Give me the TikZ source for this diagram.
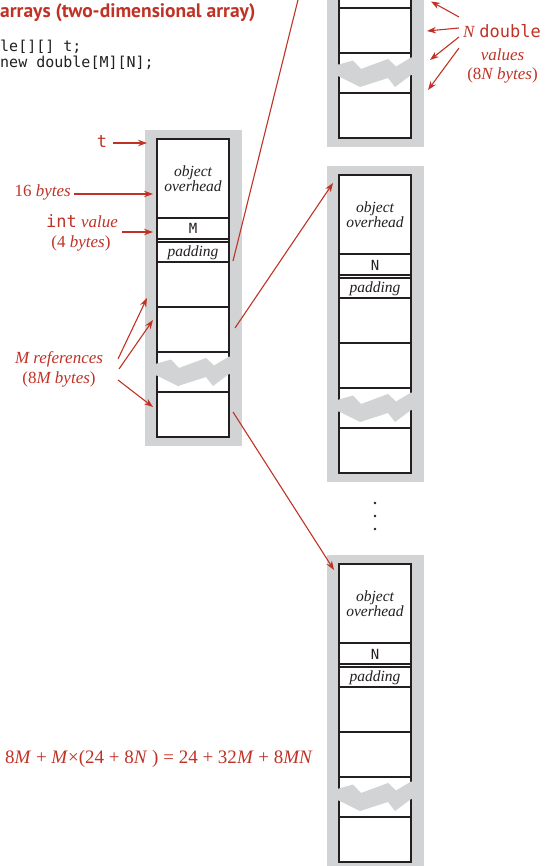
\documentclass[tikz,border=0pt]{standalone}
\usepackage{fontspec}
\setmainfont{Liberation Serif}
\newfontfamily\codefont{DejaVu Sans Mono}
\newfontfamily\titlefont{PT Sans}
\usetikzlibrary{arrows.meta}
\definecolor{bookred}{RGB}{192,50,38}
\definecolor{memgray}{RGB}{209,211,212}
\definecolor{cellline}{RGB}{35,31,32}
\tikzset{
  graybg/.style={fill=memgray},
  cell/.style={draw=cellline, line width=1.5pt},
  boxtxt/.style={font=\fontsize{15.5}{15.5}\selectfont\itshape, align=center, inner sep=0pt, text=cellline},
  boxmono/.style={font=\codefont\fontsize{14}{14}\selectfont, inner sep=0pt, text=cellline},
  lbl/.style={text=bookred, font=\fontsize{17}{19}\selectfont, inner sep=0pt},
  redarrow/.style={draw=bookred, line width=1.1pt, -{Stealth[length=9pt,width=6.5pt]}},
}
% shapes of one array: #1 x, #2 y of inner top-left corner
\newcommand\memframe[2]{%
  \begin{scope}[shift={(#1,#2)}]
    \fill[graybg] (-12.5,-9) rectangle (84.5,307);
    \fill[white] (0,0) rectangle (72,298);
    \draw[cell] (0,0) rectangle (72,298);
    \foreach \yy in {79,100,103,123,168,213,253} \draw[cell] (0,\yy) -- (72,\yy);
    \fill[graybg] (-6,224.5) -- (0,224.5) -- (14,220.5) -- (22,229) -- (49,219) -- (57,226.5)
      -- (72,217.5) -- (78,217.5) -- (78,235) -- (72,235) -- (56,247) -- (49,238)
      -- (21,247) -- (0,236.5) -- (-6,236.5) -- cycle;
  \end{scope}}
% texts of one array: #1 name, #2 x, #3 y, #4 length letter
\newcommand\memtexts[4]{%
  \begin{scope}[shift={(#2,#3)}]
    \node[boxtxt] (#1-oh) at (36,39.5) {object\\overhead};
    \node[boxmono, anchor=base] (#1-len) at (36,95) {#4};
    \node[boxtxt, anchor=base] (#1-pad) at (36,117.5) {padding};
  \end{scope}}
\begin{document}
\begin{tikzpicture}[x=1pt,y=-1pt]
  \useasboundingbox (0,0) rectangle (556,866);
  \clip (0,0) rectangle (556,866);

  % title and code
  \node[anchor=base west, inner sep=0pt, text=bookred, font=\titlefont\bfseries\fontsize{19.5}{21}\selectfont] (title) at (0,18) {arrays (two-dimensional array)};
  \node[anchor=base west, inner sep=0pt, text=cellline, font=\codefont\fontsize{15}{17}\selectfont] (code1) at (0,52) {le[][] t;};
  \node[anchor=base west, inner sep=0pt, text=cellline, font=\codefont\fontsize{15}{17}\selectfont] (code2) at (0,68) {new double[M][N];};

  % arrays
  \memframe{157}{139}
  \memframe{339}{-160}
  \memframe{339}{175}
  \memframe{339}{564}
  \memtexts{A}{157}{139}{M}
  \memtexts{C}{339}{175}{N}
  \memtexts{D}{339}{564}{N}

  % dots
  \fill[cellline] (375,503) circle (1.3);
  \fill[cellline] (375,516) circle (1.3);
  \fill[cellline] (375,529) circle (1.3);

  % left labels
  \node[lbl, anchor=base] (tlab) at (102,148) {\codefont t};
  \node[lbl, anchor=base east] (sixteen) at (71,197) {16 \textit{bytes}};
  \node[lbl, anchor=base] (intlab) at (82,228) {{\codefont int} \textit{value}};
  \node[lbl, anchor=base] (intlab2) at (81,248) {(4 \textit{bytes})};
  \node[lbl, anchor=base] (mref) at (59,363) {\textit{M references}};
  \node[lbl, anchor=base] (mref2) at (59,383) {(8\textit{M bytes})};

  % right labels
  \node[lbl, anchor=base] (ndbl) at (502,38) {\textit{N} {\codefont double}};
  \node[lbl, anchor=base] (ndbl2) at (502.5,61) {\textit{values}};
  \node[lbl, anchor=base] (ndbl3) at (502.5,80) {(8\textit{N bytes})};

  % formula
  \node[lbl, anchor=base east, font=\fontsize{19}{21}\selectfont] (formula) at (313,763)
    {8\textit{M} + \textit{M}×(24 + 8\textit{N} ) = 24 + 32\textit{M} + 8\textit{MN}};

  % arrow end points
  \coordinate (t-s) at (113,143);   \coordinate (t-e) at (147,143);
  \coordinate (b16-s) at (74,194);  \coordinate (b16-e) at (153,194);
  \coordinate (int-s) at (122,232); \coordinate (int-e) at (153,232);
  \coordinate (m1-s) at (118,359);  \coordinate (m1-e) at (147,298);
  \coordinate (m2-s) at (119,369);  \coordinate (m2-e) at (153,320);
  \coordinate (m3-s) at (118,380);  \coordinate (m3-e) at (153,407);
  \coordinate (r1-s) at (233,261);  \coordinate (B-in) at (336,-153);
  \coordinate (r2-s) at (235,328);  \coordinate (C-in) at (333,183);
  \coordinate (r3-s) at (233,412);  \coordinate (D-in) at (334,570);
  \coordinate (n1-s) at (459,17);   \coordinate (n1-e) at (431,1.5);
  \coordinate (n2-s) at (459,28);   \coordinate (n2-e) at (427,31);
  \coordinate (n3-s) at (459,37);   \coordinate (n3-e) at (430,60);
  \coordinate (n4-s) at (459,48);   \coordinate (n4-e) at (428,90);

  \draw[redarrow] (t-s) -- (t-e);
  \draw[redarrow] (b16-s) -- (b16-e);
  \draw[redarrow] (int-s) -- (int-e);
  \draw[redarrow] (m1-s) -- (m1-e);
  \draw[redarrow] (m2-s) -- (m2-e);
  \draw[redarrow] (m3-s) -- (m3-e);
  \draw[redarrow] (r1-s) -- (B-in);
  \draw[redarrow] (r2-s) -- (C-in);
  \draw[redarrow] (r3-s) -- (D-in);
  \draw[redarrow] (n1-s) -- (n1-e);
  \draw[redarrow] (n2-s) -- (n2-e);
  \draw[redarrow] (n3-s) -- (n3-e);
  \draw[redarrow] (n4-s) -- (n4-e);
\end{tikzpicture}
\end{document}
